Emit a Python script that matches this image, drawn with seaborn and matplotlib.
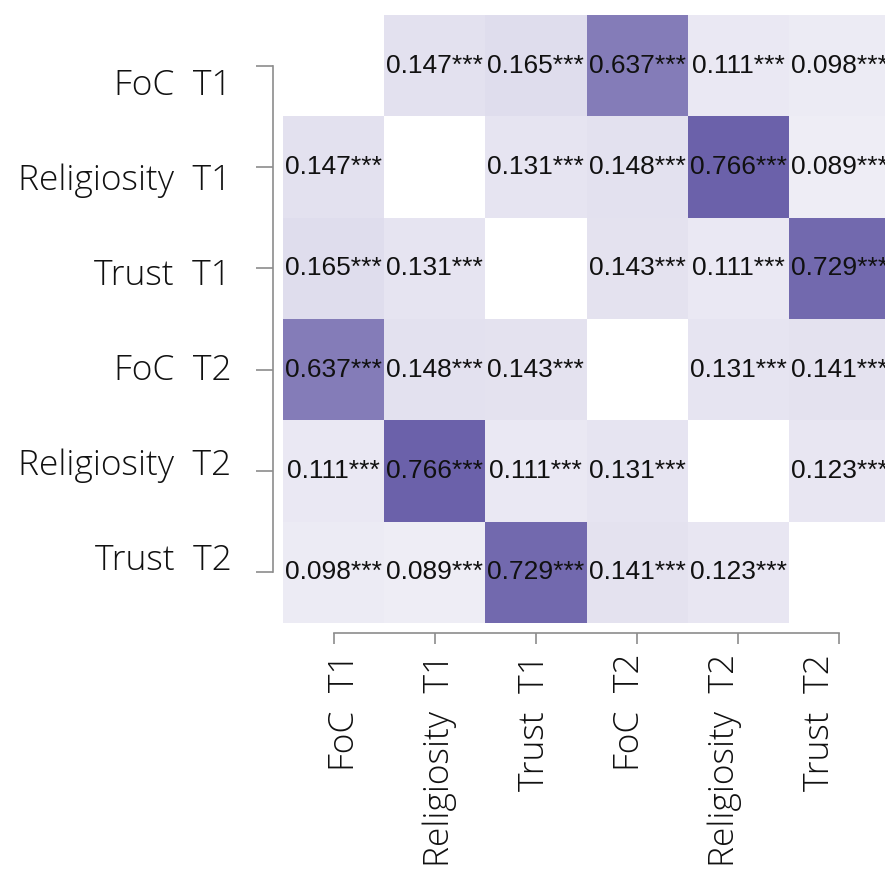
import numpy as np
import pandas as pd
import seaborn as sns
import matplotlib
matplotlib.use("Agg")
import matplotlib.pyplot as plt
from matplotlib.colors import LinearSegmentedColormap
import matplotlib.transforms as mtransforms

# ---- data ----
variables = ["FoC  T1", "Religiosity  T1", "Trust  T1",
             "FoC  T2", "Religiosity  T2", "Trust  T2"]
foc_t1 = [np.nan, 0.147, 0.165, 0.637, 0.111, 0.098]
rel_t1 = [0.147, np.nan, 0.131, 0.148, 0.766, 0.089]
trust_t1 = [0.165, 0.131, np.nan, 0.143, 0.111, 0.729]
foc_t2 = [0.637, 0.148, 0.143, np.nan, 0.131, 0.141]
rel_t2 = [0.111, 0.766, 0.111, 0.131, np.nan, 0.123]
trust_t2 = [0.098, 0.089, 0.729, 0.141, 0.123, np.nan]
stars = "***"

df = pd.DataFrame([foc_t1, rel_t1, trust_t1, foc_t2, rel_t2, trust_t2],
                  index=variables, columns=variables)
vals = df.values
annot = np.array([["" if np.isnan(v) else f"{v:.3f}{stars}" for v in row] for row in vals])

# ---- style ----
sns.set_style("white")
plt.rcParams["font.family"] = ["Open Sans", "DejaVu Sans"]

fig = plt.figure(figsize=(8.85, 8.75), dpi=100)
ax = fig.add_axes([283 / 885, (875 - 623) / 875, 607 / 885, 608 / 875])

cmap = LinearSegmentedColormap.from_list("purp", ["#ffffff", "#3e3290"])
sns.heatmap(df, ax=ax, cmap=cmap, vmin=0, vmax=1, cbar=False,
            annot=annot, fmt="",
            annot_kws=dict(fontsize=19, family="Liberation Sans", color="#111111"))

sns.despine(ax=ax, left=False, bottom=False, offset=7.2, trim=True)
spine_col = "#8c8c8c"
for s in ["left", "bottom"]:
    ax.spines[s].set_color(spine_col)
    ax.spines[s].set_linewidth(1.2)

n = len(variables)
ax.set_xticks(np.arange(n) + 0.5)
ax.set_yticks(np.arange(n) + 0.5)
ax.set_xticklabels(variables, rotation=90, ha="center", va="top", fontweight="light")
ax.set_yticklabels(variables, rotation=0, ha="right", va="center", fontweight="light")

ax.tick_params(axis="y", length=12, width=1.2, color=spine_col, pad=18,
               labelsize=25.5, labelcolor="#111111", left=True)
ax.tick_params(axis="x", length=8, width=1.2, color=spine_col, pad=7,
               labelsize=25.5, labelcolor="#111111", bottom=True)

# labels are spread slightly tighter than the ticks in the reference
for i, lbl in enumerate(ax.get_xticklabels()):
    dx = (11 - 6.2 * i) / 100.0
    lbl.set_transform(lbl.get_transform() +
                      mtransforms.ScaledTranslation(dx, 0, fig.dpi_scale_trans))
for i, lbl in enumerate(ax.get_yticklabels()):
    dy = -(20.5 - 6.5 * i) / 100.0
    lbl.set_transform(lbl.get_transform() +
                      mtransforms.ScaledTranslation(0, dy, fig.dpi_scale_trans))

ax.set_xlabel("")
ax.set_ylabel("")

fig.savefig("out.png", dpi=100)
